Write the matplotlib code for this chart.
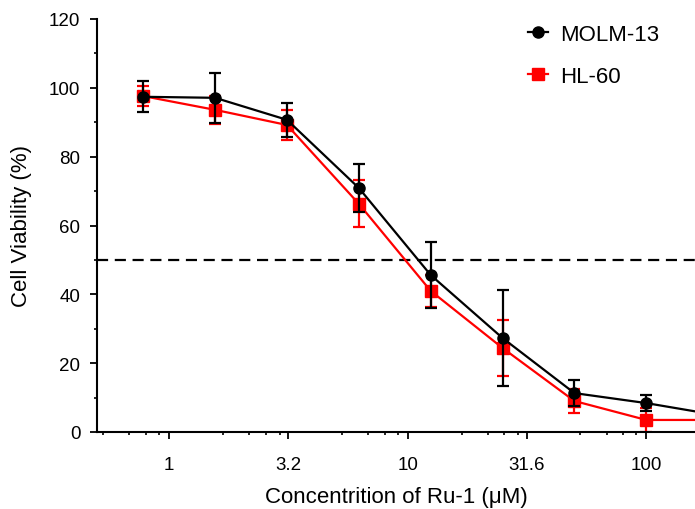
import numpy as np
import matplotlib
matplotlib.use('Agg')
import matplotlib.pyplot as plt
from matplotlib.lines import Line2D
from matplotlib.ticker import FixedLocator, NullFormatter

plt.rcParams['font.family'] = ['Liberation Sans', 'DejaVu Sans']

# ── Data ────────────────────────────────────────────────────────────────────
conc = [0.78125, 1.5625, 3.125, 6.25, 12.5, 25, 50, 100]

molm13_mean = [97.4, 97.1, 90.7, 70.9, 45.6, 27.3, 11.3, 8.4]
molm13_sd   = [4.5, 7.3, 5.0, 7.0, 9.6, 14.0, 3.7, 2.4]

hl60_mean = [97.6, 93.6, 89.2, 66.3, 41.0, 24.4, 9.0, 3.5]
hl60_sd   = [2.8, 4.0, 4.5, 6.8, 4.7, 8.0, 3.5, 3.5]

# curve continues to the right edge of the axis
tail_conc = 160
molm13_tail = 6.0
hl60_tail = 3.5

xtick_vals   = [1, 3.162, 10, 31.62, 100]
xtick_labels = ['1', '3.2', '10', '31.6', '100']
ytick_vals   = [0, 20, 40, 60, 80, 100, 120]
half_line    = 50

# ── Figure ──────────────────────────────────────────────────────────────────
fig = plt.figure(figsize=(6.95, 5.10), dpi=100)
ax = fig.add_axes([97 / 695, 1 - 433 / 510, 1 - 97 / 695, (433 - 20) / 510])

ax.set_xscale('log')
ax.set_xlim(0.5, tail_conc)
ax.set_ylim(0, 120)

ax.axhline(half_line, color='black', lw=1.6, ls=(0, (5, 3)), zorder=1)

# HL-60 (red) under MOLM-13 (black)
ax.errorbar(conc, hl60_mean, yerr=hl60_sd, fmt='none', ecolor='#ff0000',
            elinewidth=1.6, capsize=4, capthick=1.6, zorder=2)
ax.plot(conc + [tail_conc], hl60_mean + [hl60_tail], color='#ff0000', lw=1.6,
        zorder=3)
ax.plot(conc, hl60_mean, ls='none', marker='s', ms=8, color='#ff0000', zorder=3)

ax.errorbar(conc, molm13_mean, yerr=molm13_sd, fmt='none', ecolor='black',
            elinewidth=1.6, capsize=4, capthick=1.6, zorder=4)
ax.plot(conc + [tail_conc], molm13_mean + [molm13_tail], color='black', lw=1.6,
        zorder=5)
ax.plot(conc, molm13_mean, ls='none', marker='o', ms=8, color='black', zorder=5)

# ── Axes styling (Prism look) ───────────────────────────────────────────────
for side in ['top', 'right']:
    ax.spines[side].set_visible(False)
for side in ['left', 'bottom']:
    ax.spines[side].set_linewidth(1.5)

ax.xaxis.set_major_locator(FixedLocator(xtick_vals))
ax.set_xticklabels(xtick_labels)
offs = [0.226, 0.335, 0.406, 0.464, 0.724, 0.835, 0.904, 0.958]
minor_x = [10 ** (d + o) for d in range(-1, 3) for o in offs]
ax.xaxis.set_minor_locator(FixedLocator(minor_x))
ax.xaxis.set_minor_formatter(NullFormatter())

ax.set_yticks(ytick_vals)
ax.yaxis.set_minor_locator(FixedLocator(np.arange(10, 120, 20)))

ax.tick_params(axis='both', which='major', direction='out', width=1.3,
               length=5, labelsize=13.5, pad=7)
ax.tick_params(axis='x', which='major', pad=12)
ax.tick_params(axis='both', which='minor', direction='out', width=1.2, length=2.5)

ax.set_xlabel('Concentrition of Ru-1 (\u03bcM)', fontsize=16, labelpad=10)
ax.set_ylabel('Cell Viability (%)', fontsize=16, labelpad=12)

handles = [
    Line2D([], [], color='black', lw=1.6, marker='o', ms=8),
    Line2D([], [], color='#ff0000', lw=1.6, marker='s', ms=8),
]
fig.legend(handles, ['MOLM-13', 'HL-60'], loc='upper left',
           bbox_to_anchor=(528 / 695, 1 - 25 / 510), frameon=False,
           fontsize=16, handlelength=0.9, handletextpad=0.55,
           labelspacing=0.95, borderpad=0, borderaxespad=0)

fig.savefig('out.png', dpi=100)
